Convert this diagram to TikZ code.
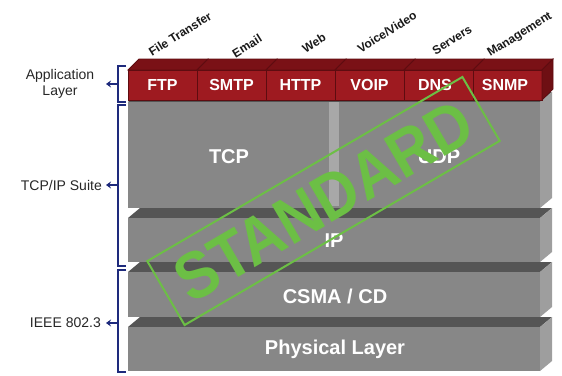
\documentclass[tikz,border=0pt]{standalone}
\usepackage{fontspec}
\setmainfont{Liberation Sans}
\usetikzlibrary{arrows.meta}
\definecolor{rfront}{HTML}{9E1A20}
\definecolor{rtop}{HTML}{7A1116}
\definecolor{rside}{HTML}{6E0F13}
\definecolor{rline}{HTML}{5E0C10}
\definecolor{gfrontc}{HTML}{878787}
\definecolor{gtopc}{HTML}{555555}
\definecolor{gsidec}{HTML}{9E9E9E}
\definecolor{gstrip}{HTML}{A8A8A8}
\definecolor{navy}{HTML}{1E2A7C}
\definecolor{stampgreen}{HTML}{6CBF45}
\tikzset{
  gfront/.style={fill=gfrontc},
  gtop/.style={fill=gtopc},
  gside/.style={fill=gsidec},
  layertext/.style={text=white,font=\bfseries\fontsize{20}{24}\selectfont,inner sep=0pt},
  apptext/.style={text=white,font=\bfseries\fontsize{16}{19}\selectfont,inner sep=0pt},
  toplabel/.style={text=black!90,font=\bfseries\fontsize{12}{14}\selectfont,rotate=32,inner sep=0pt},
  sidelabel/.style={text=black!85,font=\fontsize{14}{16.5}\selectfont,align=center,inner sep=0pt},
  bracket/.style={draw=navy,line width=1.8pt},
  brarrow/.style={draw=navy,line width=1.6pt,-{Stealth[length=5pt,width=7pt]}},
}
\newcommand\graylayer[2]{%
  \fill[gtop] (128,#1) -- (140,#1-10) -- (552,#1-10) -- (540,#1) -- cycle;
  \fill[gfront] (128,#1) rectangle (540,#2);
  \fill[gside] (540,#1) -- (552,#1-10) -- (552,#2-10) -- (540,#2) -- cycle;
}
\newcommand\redblock[2]{%
  \fill[rtop,draw=rline,line width=0.8pt] (#1,70) -- (#1+11,59) -- (#2+11,59) -- (#2,70) -- cycle;
  \fill[rfront,draw=rline,line width=0.8pt] (#1,70) rectangle (#2,100);
}
\begin{document}
\begin{tikzpicture}[x=1pt,y=-1pt]
\useasboundingbox (0,0) rectangle (562,375);
% gray layers (bottom first)
\graylayer{327}{371}
\graylayer{272}{317}
\graylayer{218}{262}
\graylayer{102}{208}
% TCP side strip
\fill[gstrip] (329,102) rectangle (339,206);
% red application blocks
\redblock{128}{197}
\redblock{197}{266}
\redblock{266}{335}
\redblock{335}{404}
\redblock{404}{473}
\redblock{473}{542}
\fill[rside,draw=rline,line width=0.8pt] (542,70) -- (553,59) -- (553,89) -- (542,100) -- cycle;
% application texts
\node[apptext] (ftp)  at (162.5,85) {FTP};
\node[apptext] (smtp) at (231.5,85) {SMTP};
\node[apptext] (http) at (300.5,85) {HTTP};
\node[apptext] (voip) at (369.5,85) {VOIP};
\node[apptext] (dns)  at (435,85) {DNS};
\node[apptext] (snmp) at (505,85) {SNMP};
% top rotated labels
\node[toplabel] (lft) at (180,34) {File Transfer};
\node[toplabel] (lem) at (247,46) {Email};
\node[toplabel] (lwb) at (314,43) {Web};
\node[toplabel] (lvv) at (387,32) {Voice/Video};
\node[toplabel] (lsv) at (452,40) {Servers};
\node[toplabel] (lmg) at (520,35) {Management};
% layer texts
\node[layertext] (tcp) at (229,157) {TCP};
\node[layertext] (udp) at (439,157) {UDP};
\node[layertext] (ip) at (334,241) {IP};
\node[layertext] (csma) at (335,296) {CSMA / CD};
\node[layertext] (phy) at (335,349) {Physical Layer};
% brackets
\draw[bracket] (126,66) -- (118,66) -- (118,102) -- (126,102);
\draw[bracket] (126,105) -- (118,105) -- (118,266) -- (126,266);
\draw[bracket] (126,270) -- (118,270) -- (118,372) -- (126,372);
\coordinate (ba) at (118,84);
\coordinate (bt) at (118,185);
\coordinate (bi) at (118,323);
\coordinate (ta) at (106,84);
\coordinate (tt) at (106,185);
\coordinate (ti) at (106,323);
\draw[brarrow] (ba) -- (ta);
\draw[brarrow] (bt) -- (tt);
\draw[brarrow] (bi) -- (ti);
\node[sidelabel] (appl) at (60,84) {Application\\Layer};
\node[sidelabel,anchor=east] (tcpip) at (102,185) {TCP/IP Suite};
\node[sidelabel,anchor=east] (ieee) at (101,323) {IEEE 802.3};
% stamp
\node[draw=stampgreen,line width=2pt,rotate=30.3,minimum width=365pt,minimum height=74pt,inner sep=0pt] (stamp) at (323.5,201) {};
\node[rotate=30.3,xscale=0.91,text=stampgreen,font=\bfseries\fontsize{66}{66}\selectfont,inner sep=0pt] (stamptext) at (stamp.center) {STANDARD};
\end{tikzpicture}
\end{document}
